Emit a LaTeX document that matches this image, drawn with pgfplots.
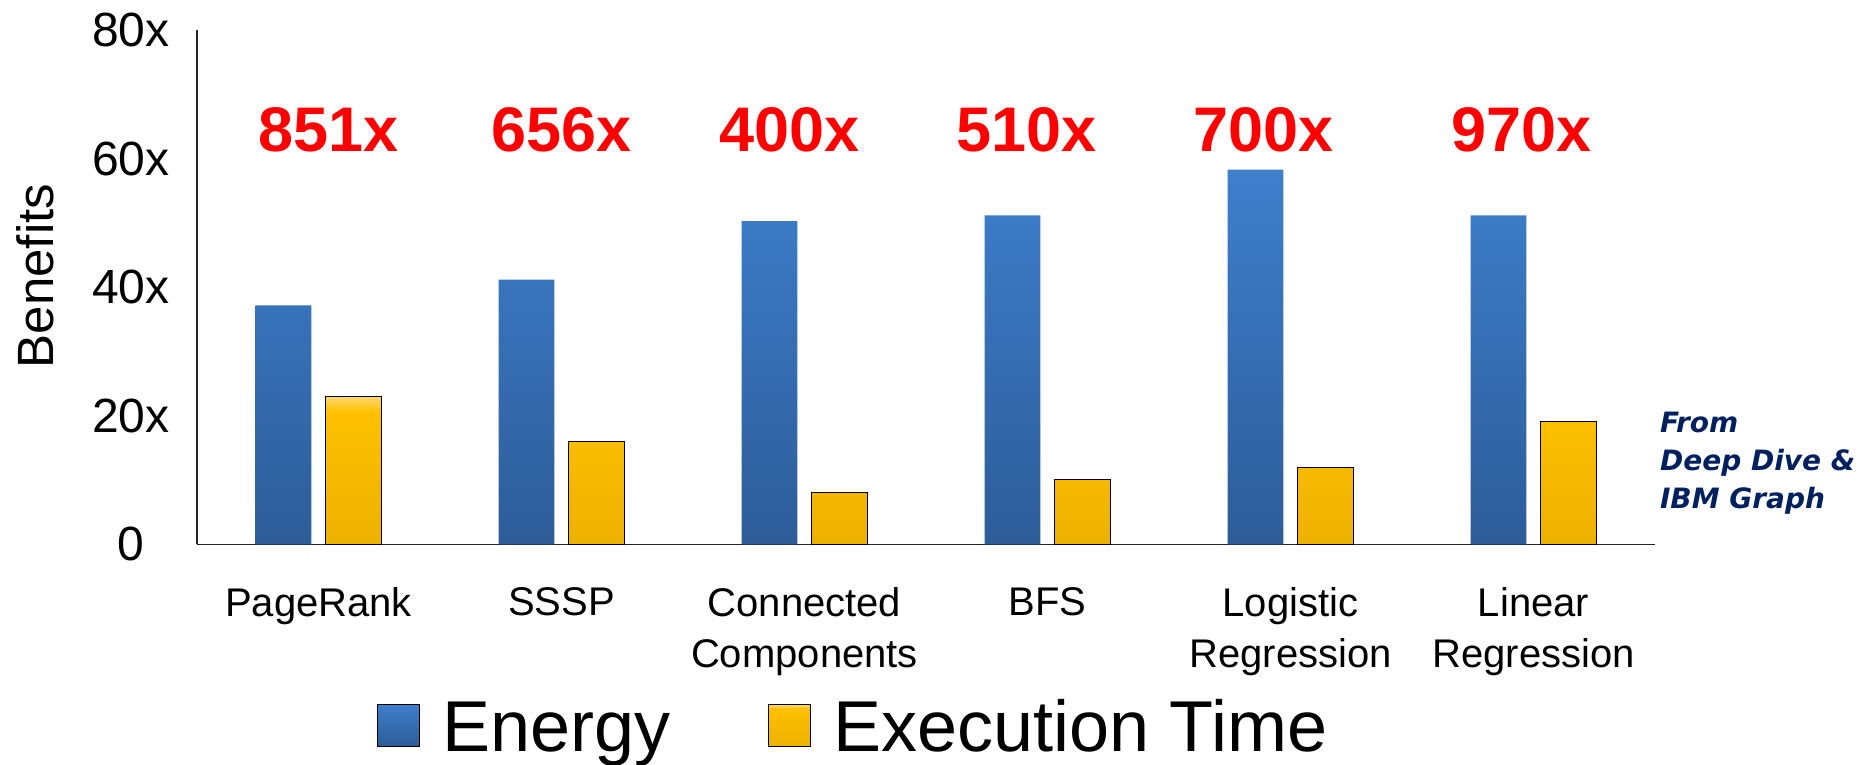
\documentclass[border=0pt]{standalone}
\usepackage{pgfplots}
\pgfplotsset{compat=1.18}
\usepackage{fontspec}
\setmainfont{Liberation Sans}
\newfontfamily\notefont{DejaVu Sans}

\definecolor{blueTop}{HTML}{3E7FCC}
\definecolor{blueBot}{HTML}{2D5C98}
\definecolor{ylwTop}{HTML}{FFD970}
\definecolor{ylwMid}{HTML}{FFC000}
\definecolor{ylwBot}{HTML}{EDB100}
\definecolor{noteBlue}{HTML}{002060}

% yellow bars: light rim at the top, warm gradient below
\pgfdeclareverticalshading{ylwbar}{100bp}{color(0bp)=(ylwBot); color(25bp)=(ylwBot); color(70bp)=(ylwMid); color(75bp)=(ylwTop); color(100bp)=(ylwTop)}

\pgfplotstableread{
x energy time
0 37.2 23.0
1 41.2 16.0
2 50.3 8.1
3 51.2 10.1
4 58.3 12.0
5 51.2 19.1
}\benefits

\begin{document}
\begin{tikzpicture}
\useasboundingbox (-59.1pt,-66.2pt) rectangle (502.2pt,163.3pt);
\begin{axis}[
  scale only axis,
  width=437.4pt, height=154.2pt,
  xmin=-0.5, xmax=5.5,
  ymin=0, ymax=80,
  axis x line=bottom, axis y line=left,
  axis line style={-, line width=0.45pt, black!85},
  major tick length=0pt,
  clip=false,
  xtick={0,1,2,3,4,5},
  xticklabels={PageRank, SSSP, Connected\\Components, BFS, Logistic\\Regression, Linear\\Regression},
  xticklabel style={font=\fontsize{12}{15.3}\selectfont, align=center, anchor=north, inner sep=0pt, yshift=-12.8pt},
  ytick={0,20,40,60,80},
  yticklabels={0,20x,40x,60x,80x},
  yticklabel style={font=\fontsize{14.4}{16}\selectfont, anchor=center, xshift=-19.8pt},
  ylabel={Benefits},
  ylabel style={font=\fontsize{15.3}{17}\selectfont, at={(axis description cs:-0.111,0.522)}, anchor=center},
  legend columns=2,
  legend style={at={(axis description cs:0.1232,-0.3016)}, anchor=north west,
    draw=none, fill=none, inner sep=0pt, outer sep=0pt,
    font=\fontsize{21.6}{24}\selectfont,
    cells={anchor=base west},
    nodes={inner sep=0pt},
    /tikz/every odd column/.append style={column sep=6.8pt},
    /tikz/every even column/.append style={column sep=29.1pt}},
  legend image code/.code={\draw[#1] (0pt,1.5pt) rectangle (12.6pt,14.1pt);},
]
\addplot[ybar, bar width=0.23, bar shift=-0.144, draw=none,
  top color=blueTop, bottom color=blueBot]
  table[x=x, y=energy] {\benefits};
\addlegendentry{Energy}
\addplot[ybar, bar width=0.23, bar shift=0.144, draw=black, line width=0.4pt,
  shading=ylwbar]
  table[x=x, y=time] {\benefits};
\addlegendentry{Execution Time}

% speed-up factors above each workload
\begin{scope}[every node/.style={anchor=base, text=red, font=\fontsize{18.9}{22}\selectfont\bfseries}]
\node at (axis cs:0.043,61.1) {851x};
\node at (axis cs:0.999,61.1) {656x};
\node at (axis cs:1.937,61.1) {400x};
\node at (axis cs:2.915,61.1) {510x};
\node at (axis cs:3.888,61.1) {700x};
\node at (axis cs:4.949,61.1) {970x};
\end{scope}

% source note, anchored on the baseline of its last line
\node[anchor=base west, align=left, text=noteBlue, inner sep=0pt,
  font=\notefont\bfseries\itshape\fontsize{8.4}{11.3}\selectfont]
  at (axis cs:5.518,5.65) {From\\Deep Dive \&\\IBM Graph};
\end{axis}
\end{tikzpicture}
\end{document}
